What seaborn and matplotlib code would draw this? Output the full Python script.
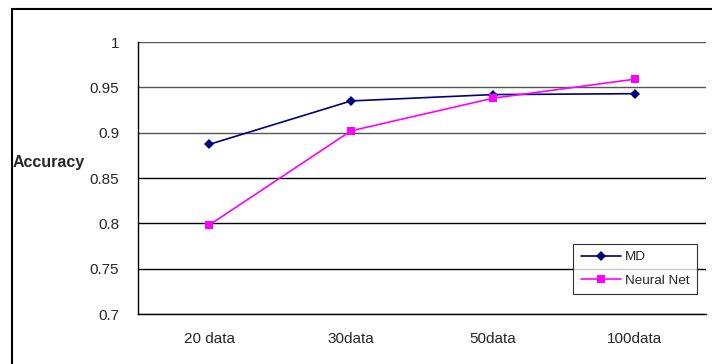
import matplotlib
matplotlib.use("Agg")
import matplotlib.pyplot as plt
import seaborn as sns
import pandas as pd
from matplotlib.lines import Line2D

categories = ["20 data", "30data", "50data", "100data"]
md_values = [0.887, 0.935, 0.942, 0.943]
nn_values = [0.798, 0.902, 0.938, 0.959]
series_names = ["MD", "Neural Net"]
y_ticks = [0.7, 0.75, 0.8, 0.85, 0.9, 0.95, 1.0]
y_tick_labels = ["0.7", "0.75", "0.8", "0.85", "0.9", "0.95", "1"]

df = pd.DataFrame({
    "cat": categories * 2,
    "x": list(range(len(categories))) * 2,
    "val": md_values + nn_values,
    "series": [series_names[0]] * 4 + [series_names[1]] * 4,
})

sns.set_theme(style="white")
plt.rcParams["font.family"] = ["Liberation Sans", "DejaVu Sans"]

fig = plt.figure(figsize=(7.12, 3.64), dpi=100)
ax = fig.add_axes([138 / 712, 1 - 314 / 364, (706 - 138) / 712, (314 - 42) / 364])

sns.lineplot(data=df, x="x", y="val", hue="series", style="series",
             palette={"MD": "#000080", "Neural Net": "#FF00FF"},
             markers={"MD": "D", "Neural Net": "s"}, dashes=False,
             markersize=5.5, linewidth=1.2, markeredgewidth=0, ax=ax, sort=False)

ax.set_xlim(-0.5, len(categories) - 0.5)
ax.set_ylim(0.7, 1.0)
ax.set_yticks(y_ticks)
ax.set_yticklabels(y_tick_labels, fontsize=11)
ax.set_xticks([i - 0.5 for i in range(len(categories) + 1)])
ax.set_xticklabels([])
ax.set_xticks(range(len(categories)), minor=True)
ax.set_xticklabels(categories, minor=True, fontsize=11)
ax.tick_params(axis="x", which="minor", length=0, pad=13)
ax.tick_params(axis="x", which="major", length=4.5, width=0.8, color="black", direction="out")
ax.tick_params(axis="y", length=4.5, width=0.8, color="black", direction="out", pad=9)
ax.grid(False)
for y in y_ticks:
    ax.axhline(y, color="#000000" if y in (0.8, 0.75, 0.85) else "#555555", lw=1.0, zorder=0)

for side in ["top", "right"]:
    ax.spines[side].set_visible(False)
ax.spines["left"].set_color("black")
ax.spines["bottom"].set_color("black")
ax.spines["left"].set_linewidth(1.0)
ax.spines["bottom"].set_linewidth(1.0)

ax.set_xlabel("")
ax.set_ylabel("Accuracy", rotation=0, fontsize=11.5, fontweight="bold", ha="left", va="center")
ax.yaxis.set_label_coords(-(138 - 13) / (706 - 138), (314 - 162) / (314 - 42))

leg = ax.legend(title=None, loc="lower right", bbox_to_anchor=((697 - 138) / 568, (314 - 294) / 272),
                frameon=True, fancybox=False, edgecolor="black", fontsize=9.7,
                handlelength=3.0, borderpad=0.55, labelspacing=0.8, handletextpad=0.3,
                borderaxespad=0)
leg.get_frame().set_linewidth(0.8)

# outer chart border (left and top edges visible)
fig.add_artist(Line2D([12 / 712, 12 / 712], [0, 1 - 9 / 364], transform=fig.transFigure, color="black", lw=1.5))
fig.add_artist(Line2D([12 / 712, 1], [1 - 9 / 364, 1 - 9 / 364], transform=fig.transFigure, color="black", lw=1.5))

fig.savefig("out.png", dpi=100)
